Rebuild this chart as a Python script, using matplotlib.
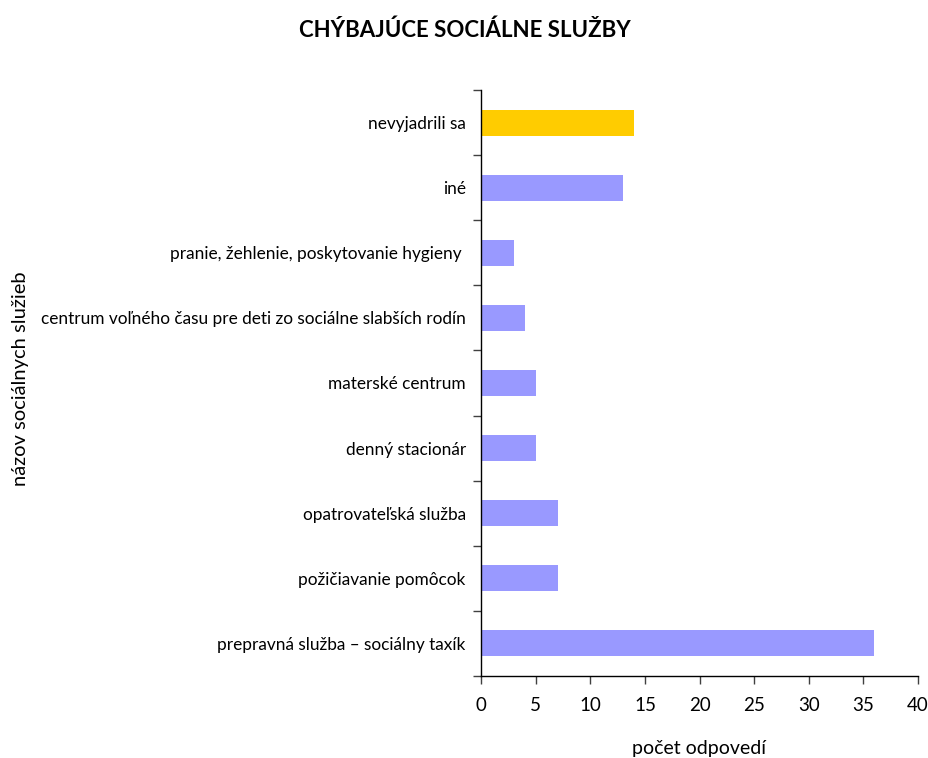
import numpy as np
import matplotlib.pyplot as plt
from matplotlib.ticker import FixedLocator

plt.rcParams['font.family'] = ['Lato', 'DejaVu Sans']

categories = ['prepravná služba – sociálny taxík', 'požičiavanie pomôcok', 'opatrovateľská služba',
              'denný stacionár', 'materské centrum',
              'centrum voľného času pre deti zo sociálne slabších rodín',
              'pranie, žehlenie, poskytovanie hygieny ', 'iné', 'nevyjadrili sa']
values = [36, 7, 7, 5, 5, 4, 3, 13, 14]
colors = ['#9999FF'] * 8 + ['#FFCC00']
x_ticks = [0, 5, 10, 15, 20, 25, 30, 35, 40]

fig = plt.figure(figsize=(9.29, 7.58), dpi=100)
ax = fig.add_axes([0.5178, 0.1082, 0.4705, 0.7731])

y = np.arange(len(categories))
ax.barh(y, values, height=0.4, color=colors)

ax.set_xlim(0, 40)
ax.set_ylim(-0.5, len(categories) - 0.5)
ax.set_xticks(x_ticks)
ax.tick_params(axis='x', labelsize=13.5, length=6, width=1, direction='out', pad=9, color='#404040')
ax.set_yticks(y)
ax.set_yticklabels(categories, fontsize=12.4)
ax.tick_params(axis='y', which='major', length=0, pad=11)
ax.yaxis.set_minor_locator(FixedLocator(np.arange(-0.5, len(categories), 1.0)))
ax.tick_params(axis='y', which='minor', length=6, width=1, color='#404040')

ax.spines['top'].set_visible(False)
ax.spines['right'].set_visible(False)
ax.spines['left'].set_linewidth(1)
ax.spines['bottom'].set_linewidth(1)

fig.text(0.7524, 0.013, 'počet odpovedí', fontsize=14, ha='center', va='center')
fig.text(0.022, 0.5, 'názov sociálnych služieb', rotation=90, fontsize=14.5, ha='center', va='center')
fig.text(0.5005, 0.96, 'CHÝBAJÚCE SOCIÁLNE SLUŽBY', fontsize=16, fontweight='bold', ha='center', va='center')

plt.savefig('out.png', dpi=100)
plt.close()
